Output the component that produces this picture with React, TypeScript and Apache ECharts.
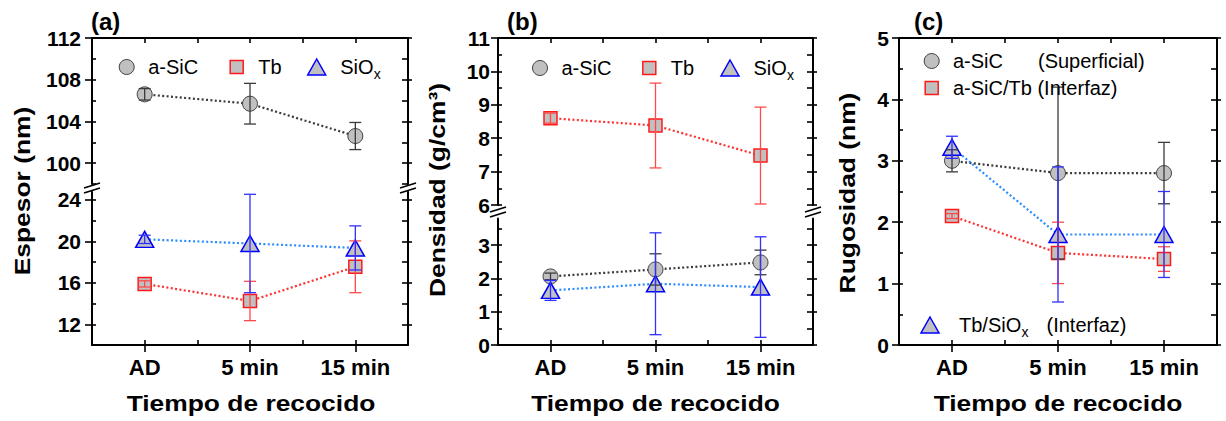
import React, { useEffect, useRef } from "react";
import * as echarts from "echarts";

// ---------------- data ----------------
const categories = ["AD", "5 min", "15 min"];

// (a) Espesor (nm)
const espesorSiC = [106.6, 105.7, 102.6];
const espesorSiCErr = [0.55, 1.95, 1.3];
const espesorTb = [15.9, 14.25, 17.55];
const espesorTbErr = [0.3, 1.9, 2.5];
const espesorSiOx = [20.2, 19.8, 19.37];
const espesorSiOxErr = [0.4, 4.75, 2.13];

// (b) Densidad (g/cm3)
const densidadSiC = [2.06, 2.27, 2.48];
const densidadSiCErr = [0.1, 0.47, 0.37];
const densidadTb = [8.6, 8.38, 7.48];
const densidadTbErr = [0.15, 1.27, 1.45];
const densidadSiOx = [1.64, 1.84, 1.74];
const densidadSiOxErr = [0.3, 1.53, 1.51];

// (c) Rugosidad (nm)
const rugosidadSiC = [3.0, 2.8, 2.8];
const rugosidadSiCErr = [0.18, 1.4, 0.5];
const rugosidadTb = [2.1, 1.5, 1.4];
const rugosidadTbErr = [0.04, 0.5, 0.2];
const rugosidadSiOx = [3.22, 1.8, 1.8];
const rugosidadSiOxErr = [0.18, 1.1, 0.7];

// tick labels
const espesorUpperTicks = [100, 104, 108, 112];
const espesorLowerTicks = [12, 16, 20, 24];
const densidadUpperTicks = [6, 7, 8, 9, 10, 11];
const densidadLowerTicks = [0, 1, 2, 3];
const rugosidadTicks = [0, 1, 2, 3, 4, 5];

// ---------------- style ----------------
const FONT = "'Liberation Sans', Arial, Helvetica, sans-serif";
const FILL = "#c0c0c0";
const kinds: Record<string, any> = {
  sic: { symbol: "circle", size: 15, border: "#404040", bw: 1, line: "#3a3a3a", err: "#3a3a3a" },
  tb: { symbol: "rect", size: 13, border: "#ff1a1a", bw: 1.5, line: "#ff3030", err: "#ff4a4a" },
  siox: { symbol: "triangle", size: [18, 16], border: "#0000ff", bw: 1.5, line: "#2a8cff", err: "#3030ff" },
};

const range = (a: number, b: number, s: number) => {
  const out: number[] = [];
  for (let v = a; v <= b + 1e-9; v += s) out.push(Math.round(v * 1000) / 1000);
  return out;
};

const grids = [
  { left: 92, top: 38, width: 316, height: 146, min: 98, max: 112, step: 2, major: espesorUpperTicks, hasTop: true, hasBottom: false, margin: 11 },
  { left: 92, top: 191.7, width: 316, height: 153.3, min: 10, max: 24.8, step: 2, major: espesorLowerTicks, hasTop: false, hasBottom: true, margin: 11 },
  { left: 498, top: 38, width: 315, height: 167, min: 6, max: 11, step: 0.5, major: densidadUpperTicks, hasTop: true, hasBottom: false, margin: 8 },
  { left: 498, top: 218.5, width: 315, height: 126.5, min: 0, max: 3.8, step: 0.5, major: densidadLowerTicks, hasTop: false, hasBottom: true, margin: 8 },
  { left: 899, top: 38, width: 318, height: 307, min: 0, max: 5, step: 0.5, major: rugosidadTicks, hasTop: true, hasBottom: true, margin: 10 },
];

const seriesDefs = [
  { grid: 0, kind: "sic", vals: espesorSiC, errs: espesorSiCErr },
  { grid: 1, kind: "tb", vals: espesorTb, errs: espesorTbErr },
  { grid: 1, kind: "siox", vals: espesorSiOx, errs: espesorSiOxErr },
  { grid: 2, kind: "tb", vals: densidadTb, errs: densidadTbErr },
  { grid: 3, kind: "sic", vals: densidadSiC, errs: densidadSiCErr },
  { grid: 3, kind: "siox", vals: densidadSiOx, errs: densidadSiOxErr },
  { grid: 4, kind: "sic", vals: rugosidadSiC, errs: rugosidadSiCErr },
  { grid: 4, kind: "tb", vals: rugosidadTb, errs: rugosidadTbErr },
  { grid: 4, kind: "siox", vals: rugosidadSiOx, errs: rugosidadSiOxErr },
];

function buildOption() {
  const axisLine = { show: true, onZero: false, lineStyle: { color: "#000", width: 2 } };
  const tickLine = { color: "#000", width: 1.6 };
  const xMajor = categories.map((_, i) => i + 1);
  const xAll = range(1, categories.length, 0.5);
  const xBase = { type: "value", min: 0.5, max: categories.length + 0.5, interval: 0.5, splitLine: { show: false } };
  const labelStyle = { color: "#000", fontWeight: "bold", fontFamily: FONT };

  const xAxis: any[] = [];
  const yAxis: any[] = [];
  const idx: { x: number; y: number }[] = [];

  grids.forEach((g, gi) => {
    const xi = xAxis.length;
    if (g.hasTop) {
      xAxis.push({ ...xBase, gridIndex: gi, position: "top", axisLine, axisTick: { show: true, inside: true, length: 5, customValues: xAll, lineStyle: tickLine }, axisLabel: { show: false } });
    }
    if (g.hasBottom) {
      xAxis.push({
        ...xBase, gridIndex: gi, position: "bottom", axisLine,
        axisTick: { show: true, inside: false, length: 7, customValues: xMajor, lineStyle: tickLine },
        axisLabel: {
          show: true, customValues: xMajor, margin: 11, fontSize: 22, ...labelStyle,
          formatter: (v: number) => (Math.abs(v - Math.round(v)) < 1e-6 ? categories[Math.round(v) - 1] || "" : ""),
        },
      });
      xAxis.push({ ...xBase, gridIndex: gi, position: "bottom", axisLine: { show: false }, axisTick: { show: true, inside: true, length: 5, customValues: xAll, lineStyle: tickLine }, axisLabel: { show: false } });
    }
    const yi = yAxis.length;
    const all = range(Math.ceil(g.min / g.step) * g.step, g.max, g.step);
    const yBase = { type: "value", gridIndex: gi, min: g.min, max: g.max, interval: g.step, splitLine: { show: false } };
    yAxis.push({
      ...yBase, position: "left", axisLine,
      axisTick: { show: true, inside: false, length: 7, customValues: g.major, lineStyle: tickLine },
      axisLabel: {
        show: true, customValues: g.major, margin: g.margin, fontSize: 21, ...labelStyle,
        formatter: (v: number) => (g.major.some((m) => Math.abs(m - v) < 1e-6) ? String(v) : ""),
      },
    });
    yAxis.push({ ...yBase, position: "left", axisLine: { show: false }, axisTick: { show: true, inside: true, length: 4, customValues: all, lineStyle: tickLine }, axisLabel: { show: false } });
    yAxis.push({ ...yBase, position: "right", axisLine, axisTick: { show: true, inside: false, length: 4, customValues: g.major, lineStyle: tickLine }, axisLabel: { show: false } });
    yAxis.push({ ...yBase, position: "right", axisLine: { show: false }, axisTick: { show: true, inside: true, length: 6, customValues: all, lineStyle: tickLine }, axisLabel: { show: false } });
    idx.push({ x: xi, y: yi });
  });

  const series: any[] = [];
  seriesDefs.forEach((s) => {
    const k = kinds[s.kind];
    series.push({
      type: "line",
      xAxisIndex: idx[s.grid].x,
      yAxisIndex: idx[s.grid].y,
      data: s.vals.map((v, i) => [i + 1, v]),
      symbol: k.symbol,
      symbolSize: k.size,
      showAllSymbol: true,
      itemStyle: { color: FILL, borderColor: k.border, borderWidth: k.bw },
      lineStyle: { color: k.line, width: 2.2, type: [2, 2.4] },
      emphasis: { disabled: true },
      z: 2,
    });
  });
  seriesDefs.forEach((s) => {
    const k = kinds[s.kind];
    series.push({
      type: "custom",
      xAxisIndex: idx[s.grid].x,
      yAxisIndex: idx[s.grid].y,
      data: s.vals.map((v, i) => [i + 1, v, v - s.errs[i], v + s.errs[i]]),
      encode: { x: 0, y: 1 },
      z: 3,
      silent: true,
      renderItem: (params: any, api: any) => {
        const x = api.value(0);
        const top = api.coord([x, api.value(3)]);
        const bot = api.coord([x, api.value(2)]);
        const w = 6;
        const st = { stroke: k.err, lineWidth: 1.3 };
        return {
          type: "group",
          children: [
            { type: "line", shape: { x1: top[0], y1: top[1], x2: bot[0], y2: bot[1] }, style: st },
            { type: "line", shape: { x1: top[0] - w, y1: top[1], x2: top[0] + w, y2: top[1] }, style: st },
            { type: "line", shape: { x1: bot[0] - w, y1: bot[1], x2: bot[0] + w, y2: bot[1] }, style: st },
          ],
        };
      },
    });
  });

  // ---------------- graphics (titles, legends, axis breaks) ----------------
  const g: any[] = [];
  const text = (x: number, y: number, t: string, o: any = {}) => ({
    type: "text", x, y, z: 10, silent: true, rotation: o.rotation || 0, scaleX: o.scaleX || 1,
    style: { text: t, fill: "#000", fontFamily: FONT, fontSize: o.size || 20, fontWeight: o.weight || "normal", align: o.align || "left", verticalAlign: "middle" },
  });
  const sym = (kind: string, cx: number, cy: number) => {
    const k = kinds[kind];
    const style = { fill: FILL, stroke: k.border, lineWidth: k.bw };
    if (kind === "sic") return { type: "circle", z: 10, silent: true, shape: { cx, cy, r: 7.5 }, style };
    if (kind === "tb") return { type: "rect", z: 10, silent: true, shape: { x: cx - 6.5, y: cy - 6.5, width: 13, height: 13 }, style };
    return { type: "polygon", z: 10, silent: true, shape: { points: [[cx, cy - 8], [cx + 9, cy + 8], [cx - 9, cy + 8]] }, style };
  };

  // panel labels
  g.push(text(91, 21, "(a)", { size: 24, weight: "bold" }));
  g.push(text(507, 21, "(b)", { size: 24, weight: "bold" }));
  g.push(text(914, 21, "(c)", { size: 24, weight: "bold" }));

  // axis titles
  const tt = { size: 22, weight: "bold", align: "center", scaleX: 1.2 };
  g.push(text(251, 403, "Tiempo de recocido", tt));
  g.push(text(655.5, 403, "Tiempo de recocido", tt));
  g.push(text(1058, 403, "Tiempo de recocido", tt));
  g.push(text(22, 191, "Espesor (nm)", { ...tt, rotation: Math.PI / 2 }));
  g.push(text(437, 190, "Densidad (g/cm³)", { ...tt, rotation: Math.PI / 2 }));
  g.push(text(847, 193, "Rugosidad (nm)", { ...tt, rotation: Math.PI / 2 }));

  // legends (a), (b)
  const legendRow = (y: number, xs: number[]) => {
    g.push(sym("sic", xs[0], y));
    g.push(text(xs[0] + 21.5, y, "a-SiC"));
    g.push(sym("tb", xs[1], y));
    g.push(text(xs[1] + 21.5, y, "Tb"));
    g.push(sym("siox", xs[2], y));
    g.push(text(xs[2] + 23.5, y, "SiO"));
    g.push(text(xs[2] + 57, y + 7, "x", { size: 14 }));
  };
  legendRow(67, [126.7, 236.7, 316.7]);
  legendRow(68, [540, 649.3, 730]);

  // legend (c)
  g.push(sym("sic", 931.7, 61));
  g.push(text(953, 61, "a-SiC"));
  g.push(text(1038, 61, "(Superficial)"));
  g.push(sym("tb", 931.7, 88));
  g.push(text(953, 88, "a-SiC/Tb (Interfaz)"));
  g.push(sym("siox", 930, 325));
  g.push(text(959, 325, "Tb/SiO"));
  g.push(text(1021.5, 332, "x", { size: 14 }));
  g.push(text(1046.5, 325, "(Interfaz)"));

  // axis break marks
  const brk = (x: number, y: number) => {
    const st = { stroke: "#000", lineWidth: 1.8 };
    g.push({ type: "rect", z: 9, silent: true, shape: { x: x - 3, y: y - 3, width: 6, height: 6 }, style: { fill: "#fff" } });
    g.push({ type: "line", z: 10, silent: true, shape: { x1: x - 8, y1: y, x2: x + 8, y2: y - 5 }, style: st });
    g.push({ type: "line", z: 10, silent: true, shape: { x1: x - 8, y1: y + 5, x2: x + 8, y2: y }, style: st });
  };
  brk(92, 188);
  brk(408, 188);
  brk(498, 212);
  brk(813, 212);

  return {
    animation: false,
    backgroundColor: "#fff",
    grid: grids.map((gr) => ({ left: gr.left, top: gr.top, width: gr.width, height: gr.height, containLabel: false })),
    xAxis,
    yAxis,
    series,
    graphic: { elements: g },
  };
}

export default function App() {
  const ref = useRef<HTMLDivElement>(null);
  useEffect(() => {
    if (!ref.current) return;
    const chart = echarts.init(ref.current, null, { renderer: "svg" });
    chart.setOption(buildOption() as any);
    return () => chart.dispose();
  }, []);
  return (
    <div
      ref={ref}
      style={{ position: "absolute", left: 0, top: 0, width: 1226, height: 421, background: "#fff" }}
    />
  );
}
